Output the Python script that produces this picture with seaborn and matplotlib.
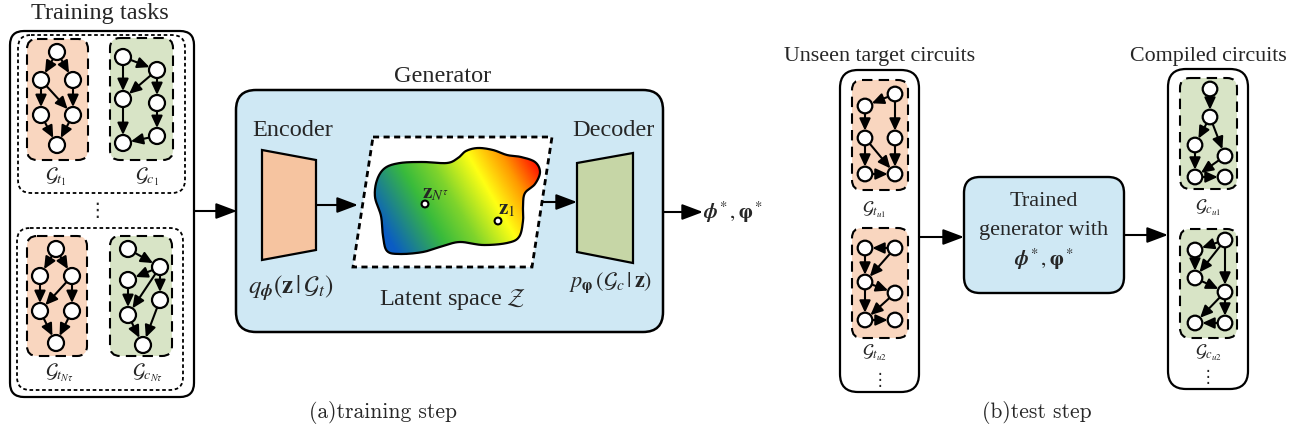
import numpy as np
import seaborn as sns
import matplotlib.pyplot as plt
from matplotlib.patches import FancyBboxPatch, Polygon, Circle, PathPatch
from matplotlib.path import Path
from matplotlib.colors import LinearSegmentedColormap

sns.set_theme(style="white")
plt.rcParams['font.family'] = ['Liberation Serif', 'DejaVu Serif']
plt.rcParams['mathtext.fontset'] = 'stix'

# graph layouts (node centres, pixel coords) and edges
ta_nodes = [(57, 52), (41, 80), (73, 80), (41, 115), (73, 115), (57, 145)]
ta_edges = [(0, 1), (0, 2), (1, 3), (1, 4), (2, 4), (3, 5), (4, 5)]
ca_nodes = [(123, 57), (157, 70), (123, 99), (157, 103), (123, 143), (157, 136)]
ca_edges = [(0, 1), (0, 2), (1, 2), (1, 3), (2, 4), (3, 5), (5, 4)]
tb_nodes = [(56, 249), (40, 276), (72, 276), (40, 311), (72, 311), (56, 343)]
tb_edges = [(0, 1), (0, 2), (1, 3), (2, 3), (2, 4), (3, 5), (4, 5)]
cb_nodes = [(128, 249), (160, 267), (128, 280), (160, 300), (128, 315), (143, 345)]
cb_edges = [(0, 1), (1, 2), (1, 4), (1, 3), (2, 4), (4, 5), (3, 5)]

tu1_nodes = [(865, 106), (895, 94), (865, 138), (895, 138), (865, 174), (895, 174)]
tu1_edges = [(1, 0), (0, 2), (1, 3), (2, 4), (2, 5), (3, 5), (4, 5)]
tu2_nodes = [(865, 248), (895, 248), (865, 282), (895, 293), (865, 320), (895, 320)]
tu2_edges = [(1, 0), (0, 2), (1, 2), (2, 3), (2, 4), (3, 4), (4, 5)]
cu1_nodes = [(1210, 89), (1210, 117), (1195, 145), (1225, 156), (1195, 177), (1225, 177)]
cu1_edges = [(0, 1), (1, 2), (1, 3), (2, 4), (3, 4), (4, 5)]
cu2_nodes = [(1195, 250), (1225, 240), (1195, 278), (1225, 292), (1195, 323), (1225, 323)]
cu2_edges = [(1, 0), (0, 2), (1, 2), (1, 3), (2, 3), (3, 4), (3, 5), (5, 4)]

# latent blob outline
blob_pts = [(377, 180), (385, 168), (400, 163), (423, 162), (447, 163), (458, 158),
            (466, 151), (478, 148), (493, 150), (507, 155), (521, 157), (535, 162),
            (540, 172), (535, 184), (525, 193), (523, 205), (523, 221), (519, 237),
            (507, 243), (483, 245), (460, 242), (443, 246), (423, 252), (400, 254),
            (387, 251), (383, 236), (381, 216), (375, 197)]
latent_pts = {'zN': (425, 204), 'z1': (498, 221)}

ORANGE = '#f9d6bf'
GREEN = '#d8e4c6'
BLUE = '#cfe8f4'
ENC = '#f6c4a0'
DEC = '#c6d6a6'
FS = 17.5

fig = plt.figure(figsize=(13.13, 4.41), dpi=100)
ax = fig.add_axes([0, 0, 1, 1])


def rbox(x0, y0, x1, y1, fc='none', ls='-', lw=1.5, r=12, z=1):
    p = FancyBboxPatch((x0, y0), x1 - x0, y1 - y0,
                       boxstyle=f'round,pad=0,rounding_size={r}',
                       fc=fc, ec='black', ls=ls, lw=lw, zorder=z)
    ax.add_patch(p)
    return p


def arrow(p0, p1, lw=1.5, big=True, z=5):
    if big:
        style = '-|>,head_length=0.85,head_width=0.32'
        ms = 15
    else:
        style = '-|>,head_length=0.65,head_width=0.3'
        ms = 11
    ax.annotate('', xy=p1, xytext=p0,
                arrowprops=dict(arrowstyle=style, color='black', lw=lw,
                                shrinkA=0, shrinkB=0, mutation_scale=ms),
                zorder=z)


def graph(nodes, edges, r=7.5):
    pts = np.array(nodes, dtype=float)
    for a, b in edges:
        d = pts[b] - pts[a]
        u = d / np.hypot(*d)
        arrow(pts[a] + u * r, pts[b] - u * r, lw=1.5, big=False, z=4)
    for x, y in pts:
        ax.add_patch(Circle((x, y), r, fc='white', ec='black', lw=1.6, zorder=6))


def closed_spline(pts, n=16):
    P = np.array(pts, dtype=float)
    N = len(P)
    out = []
    t = np.linspace(0, 1, n, endpoint=False)[:, None]
    for i in range(N):
        p0, p1, p2, p3 = P[i - 1], P[i], P[(i + 1) % N], P[(i + 2) % N]
        seg = 0.5 * ((2 * p1) + (-p0 + p2) * t + (2 * p0 - 5 * p1 + 4 * p2 - p3) * t ** 2
                     + (-p0 + 3 * p1 - 3 * p2 + p3) * t ** 3)
        out.append(seg)
    out = np.vstack(out)
    return np.vstack([out, out[:1]])


# ---------------- (a) training step ----------------
ax.text(100, 14, 'Training tasks', ha='center', va='center', fontsize=FS)
rbox(10, 31, 194, 397, lw=1.6, r=14)
rbox(18, 35, 185, 193, ls=(0, (2, 1.5)), lw=1.3, r=13)
rbox(17, 228, 183, 390, ls=(0, (2, 1.5)), lw=1.3, r=13)
rbox(27, 39, 88, 160, fc=ORANGE, ls=(0, (5, 3)), lw=1.5, r=10)
rbox(110, 38, 173, 160, fc=GREEN, ls=(0, (5, 3)), lw=1.5, r=10)
rbox(27, 236, 87, 356, fc=ORANGE, ls=(0, (5, 3)), lw=1.5, r=10)
rbox(110, 236, 172, 356, fc=GREEN, ls=(0, (5, 3)), lw=1.5, r=10)
graph(ta_nodes, ta_edges, r=8)
graph(ca_nodes, ca_edges, r=8)
graph(tb_nodes, tb_edges, r=8)
graph(cb_nodes, cb_edges, r=8)
ax.text(56, 177, r'$\mathcal{G}_{t_1}$', ha='center', va='center', fontsize=14.5)
ax.text(147, 177, r'$\mathcal{G}_{c_1}$', ha='center', va='center', fontsize=14.5)
ax.text(59, 373, r'$\mathcal{G}_{t_{N\tau}}$', ha='center', va='center', fontsize=14.5)
ax.text(148, 373, r'$\mathcal{G}_{c_{N\tau}}$', ha='center', va='center', fontsize=14.5)
ax.text(97, 210, '\u22ee', ha='center', va='center', fontsize=14, family='DejaVu Sans')

arrow((194, 211), (237, 211))

# generator
ax.text(443, 76, 'Generator', ha='center', va='center', fontsize=FS)
rbox(236, 90, 663, 332, fc=BLUE, lw=1.8, r=20)
ax.text(293, 130, 'Encoder', ha='center', va='center', fontsize=FS)
ax.text(613, 130, 'Decoder', ha='center', va='center', fontsize=FS)
ax.add_patch(Polygon([(262, 150), (316, 160), (316, 250), (262, 260)], closed=True,
                     fc=ENC, ec='black', lw=1.6, zorder=3))
ax.add_patch(Polygon([(577, 163), (633, 153), (633, 263), (577, 252)], closed=True,
                     fc=DEC, ec='black', lw=1.6, zorder=3))
ax.text(291, 288, r'$q_{\boldsymbol{\phi}}(\mathbf{z}\,|\,\mathcal{G}_t)$',
        ha='center', va='center', fontsize=18)
ax.text(611, 283, r'$p_{\boldsymbol{\varphi}}\,(\mathcal{G}_c\,|\,\mathbf{z})$',
        ha='center', va='center', fontsize=16)

# latent space
ax.add_patch(Polygon([(373, 137), (552, 137), (532, 267), (353, 267)], closed=True,
                     fc='white', ec='black', ls=(0, (2.2, 1.6)), lw=2, zorder=3))
bx = closed_spline(blob_pts)
blob = PathPatch(Path(bx), fc='none', ec='black', lw=1.6, zorder=5)
ax.add_patch(blob)
cmap = LinearSegmentedColormap.from_list(
    'latent', [(0, '#0a5cc4'), (0.28, '#39bb3c'), (0.45, '#7fd42c'),
               (0.66, '#ffff14'), (0.83, '#ff9a00'), (1, '#ff0a00')])
gx, gy = np.meshgrid(np.linspace(365, 550, 200), np.linspace(140, 262, 140))
grad = 0.87 * gx - 0.5 * gy
im = ax.imshow(grad, extent=(365, 550, 262, 140), origin='upper', cmap=cmap,
               vmin=218, vmax=388, zorder=4, interpolation='bilinear')
im.set_clip_path(blob)
for x, y in latent_pts.values():
    ax.add_patch(Circle((x, y), 3.4, fc='white', ec='black', lw=1.5, zorder=6))
ax.text(436, 194, r'$\mathbf{z}_{N^\tau}$', ha='center', va='center', fontsize=15, zorder=7)
ax.text(507, 210, r'$\mathbf{z}_1$', ha='center', va='center', fontsize=15, zorder=7)
ax.text(453, 300, r'Latent space $\mathcal{Z}$', ha='center', va='center', fontsize=FS)

arrow((316, 205), (358, 205))
arrow((542, 202), (577, 202))
arrow((663, 212), (703, 212))
ax.text(703, 212, r'$\boldsymbol{\phi}^*, \boldsymbol{\varphi}^*$', ha='left', va='center',
        fontsize=15)

ax.text(383, 413, '(a)training step', ha='center', va='center', fontsize=15.5, family='cmr10')

# ---------------- (b) test step ----------------
ax.text(880, 56, 'Unseen target circuits', ha='center', va='center', fontsize=15.8)
ax.text(1208, 56, 'Compiled circuits', ha='center', va='center', fontsize=15.8)
rbox(840, 70, 919, 392, lw=1.6, r=18)
rbox(1168, 69, 1248, 389, lw=1.6, r=18)
rbox(852, 80, 908, 190, fc=ORANGE, ls=(0, (5, 3)), lw=1.5, r=10)
rbox(852, 228, 908, 338, fc=ORANGE, ls=(0, (5, 3)), lw=1.5, r=10)
rbox(1180, 78, 1237, 189, fc=GREEN, ls=(0, (5, 3)), lw=1.5, r=10)
rbox(1180, 229, 1237, 338, fc=GREEN, ls=(0, (5, 3)), lw=1.5, r=10)
graph(tu1_nodes, tu1_edges, r=7.3)
graph(tu2_nodes, tu2_edges, r=7.3)
graph(cu1_nodes, cu1_edges, r=7.3)
graph(cu2_nodes, cu2_edges, r=7.3)
ax.text(874, 210, r'$\mathcal{G}_{t_{u1}}$', ha='center', va='center', fontsize=13)
ax.text(874, 353, r'$\mathcal{G}_{t_{u2}}$', ha='center', va='center', fontsize=13)
ax.text(1208, 208, r'$\mathcal{G}_{c_{u1}}$', ha='center', va='center', fontsize=13)
ax.text(1208, 353, r'$\mathcal{G}_{c_{u2}}$', ha='center', va='center', fontsize=13)
ax.text(880, 380, '\u22ee', ha='center', va='center', fontsize=12, family='DejaVu Sans')
ax.text(1208, 377, '\u22ee', ha='center', va='center', fontsize=12, family='DejaVu Sans')

arrow((919, 237), (964, 237))
rbox(964, 177, 1124, 293, fc=BLUE, lw=1.7, r=16)
ax.text(1044, 202, 'Trained', ha='center', va='center', fontsize=16)
ax.text(1044, 230, 'generator with', ha='center', va='center', fontsize=16)
ax.text(1044, 259, r'$\boldsymbol{\phi}^*, \boldsymbol{\varphi}^*$', ha='center', va='center',
        fontsize=15)
arrow((1124, 235), (1168, 235))

ax.text(1037, 413, '(b)test step', ha='center', va='center', fontsize=15.5, family='cmr10')

ax.set_xlim(0, 1313)
ax.set_ylim(441, 0)
ax.set_aspect('auto')
ax.axis('off')
fig.savefig('out.png', dpi=100, facecolor='white')
